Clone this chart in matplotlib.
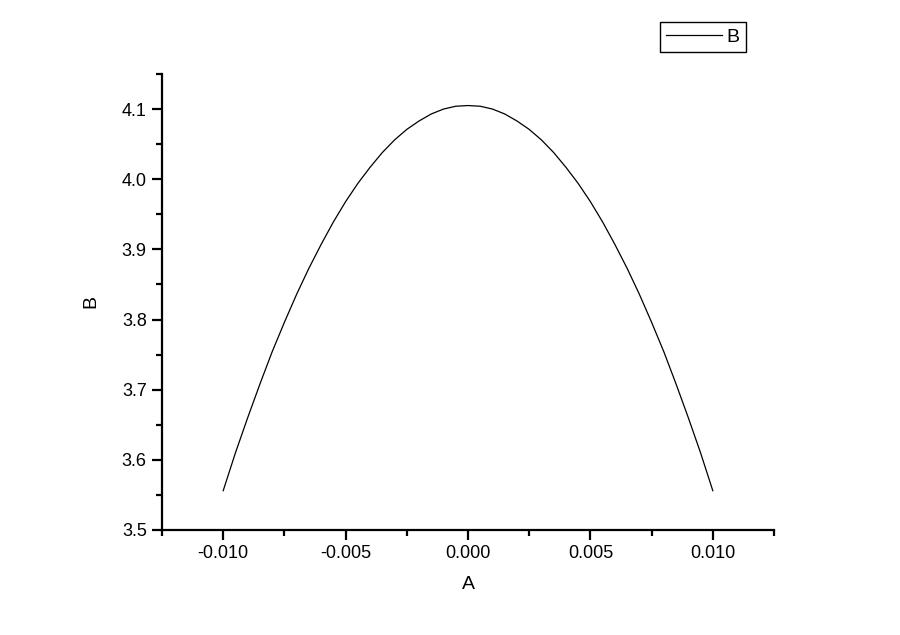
import matplotlib
matplotlib.use("Agg")
import matplotlib.pyplot as plt
from matplotlib.ticker import MultipleLocator, FormatStrFormatter

plt.rcParams['font.family'] = ['Liberation Sans', 'DejaVu Sans']

# values
a_vals = [-0.0100, -0.0095, -0.0090, -0.0085, -0.0080, -0.0075, -0.0070, -0.0065, -0.0060,
          -0.0055, -0.0050, -0.0045, -0.0040, -0.0035, -0.0030, -0.0025, -0.0020, -0.0015,
          -0.0010, -0.0005, 0.0000, 0.0005, 0.0010, 0.0015, 0.0020, 0.0025, 0.0030, 0.0035,
          0.0040, 0.0045, 0.0050, 0.0055, 0.0060, 0.0065, 0.0070, 0.0075, 0.0080, 0.0085,
          0.0090, 0.0095, 0.0100]
b_vals = [3.556, 3.610, 3.660, 3.708, 3.754, 3.796, 3.836, 3.873, 3.907,
          3.939, 3.968, 3.994, 4.017, 4.038, 4.056, 4.071, 4.083, 4.093,
          4.100, 4.104, 4.105, 4.104, 4.100, 4.093, 4.083, 4.071, 4.056, 4.038,
          4.017, 3.994, 3.968, 3.939, 3.907, 3.873, 3.836, 3.796, 3.754, 3.708,
          3.660, 3.610, 3.556]

fig = plt.figure(figsize=(9, 6.35), dpi=100)
ax = fig.add_axes([0.18, 0.1654, 0.68, 0.7181])

line, = ax.plot(a_vals, b_vals, color='black', linewidth=0.9, label='B')

ax.set_xlim(-0.0125, 0.0125)
ax.set_ylim(3.5, 4.15)
ax.xaxis.set_major_locator(MultipleLocator(0.005))
ax.xaxis.set_minor_locator(MultipleLocator(0.0025))
ax.yaxis.set_major_locator(MultipleLocator(0.1))
ax.yaxis.set_minor_locator(MultipleLocator(0.05))
ax.xaxis.set_major_formatter(FormatStrFormatter('%.3f'))
ax.yaxis.set_major_formatter(FormatStrFormatter('%.1f'))

for side in ['top', 'right']:
    ax.spines[side].set_visible(False)
for side in ['left', 'bottom']:
    ax.spines[side].set_linewidth(1.6)

ax.tick_params(which='major', direction='out', length=7, width=1.6, labelsize=13, pad=4)
ax.tick_params(which='minor', direction='out', length=4, width=1.6)

ax.set_xlabel('A', fontsize=14, labelpad=10)
ax.set_ylabel('B', fontsize=14, labelpad=16)

fig.legend(handles=[line], loc='upper left', bbox_to_anchor=(0.733, 0.965),
           fancybox=False, edgecolor='black', framealpha=1, fontsize=14,
           handlelength=2.9, handletextpad=0.25, borderpad=0.3, borderaxespad=0)

fig.savefig('out.png', dpi=100)
